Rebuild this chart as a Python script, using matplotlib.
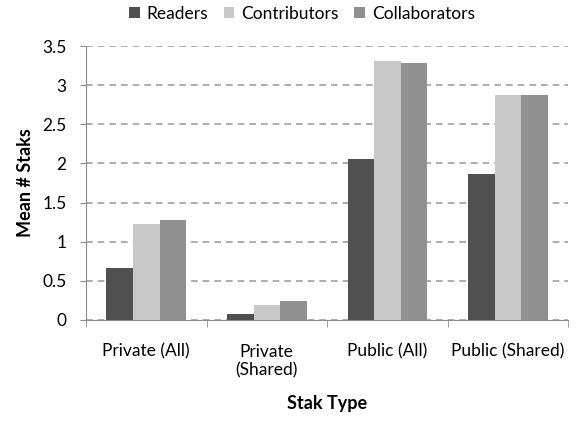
import matplotlib
matplotlib.use("Agg")
import matplotlib.pyplot as plt
from matplotlib.ticker import FuncFormatter, FixedLocator
import numpy as np

plt.rcParams['font.family'] = ['Lato', 'DejaVu Sans']

categories = ["Private (All)", "Private\n(Shared)", "Public (All)", "Public (Shared)"]
series_names = ["Readers", "Contributors", "Collaborators"]
readers = [0.66, 0.08, 2.06, 1.86]
contributors = [1.23, 0.19, 3.31, 2.87]
collaborators = [1.28, 0.24, 3.28, 2.87]
colors = ["#505050", "#c8c8c8", "#909090"]

fig = plt.figure(figsize=(5.85, 4.3), dpi=100)
ax = fig.add_axes([0.147, 0.256, 0.824, 0.637])

x = np.arange(len(categories))
w = 0.22
for i, (vals, name) in enumerate(zip([readers, contributors, collaborators], series_names)):
    ax.bar(x + (i - 1) * w, vals, w, color=colors[i], label=name, zorder=3)

ax.set_xlim(-0.5, len(categories) - 0.5)
ax.set_ylim(0, 3.5)
ax.set_yticks(np.arange(0, 3.51, 0.5))
ax.yaxis.set_major_formatter(FuncFormatter(lambda v, p: "%g" % v))
ax.yaxis.grid(True, linestyle=(0, (4, 3)), color="#a0a0a0", linewidth=1.2, zorder=0)

ax.set_xticks(x)
ax.set_xticklabels(categories, fontsize=12.5, linespacing=1.2)
ax.tick_params(axis="x", which="major", length=0, pad=17)
ax.xaxis.set_minor_locator(FixedLocator(np.arange(-0.5, len(categories), 1.0)))
ax.tick_params(axis="x", which="minor", length=5, direction="out", color="#8c8c8c")
ax.tick_params(axis="y", length=4, direction="out", color="#8c8c8c", labelsize=12.5, pad=10)

for s in ["top", "right"]:
    ax.spines[s].set_visible(False)
for s in ["left", "bottom"]:
    ax.spines[s].set_color("#8c8c8c")

ax.set_ylabel("Mean # Staks", fontsize=13, fontweight="bold", labelpad=6)
ax.set_xlabel("Stak Type", fontsize=13, fontweight="bold", labelpad=12)

fig.legend(loc="center", bbox_to_anchor=(302 / 585, 1 - 14 / 430), ncol=3, frameon=False,
           fontsize=12.5, handlelength=0.6, handleheight=0.6, handletextpad=0.4, columnspacing=0.9)

fig.savefig("out.png", dpi=100)
